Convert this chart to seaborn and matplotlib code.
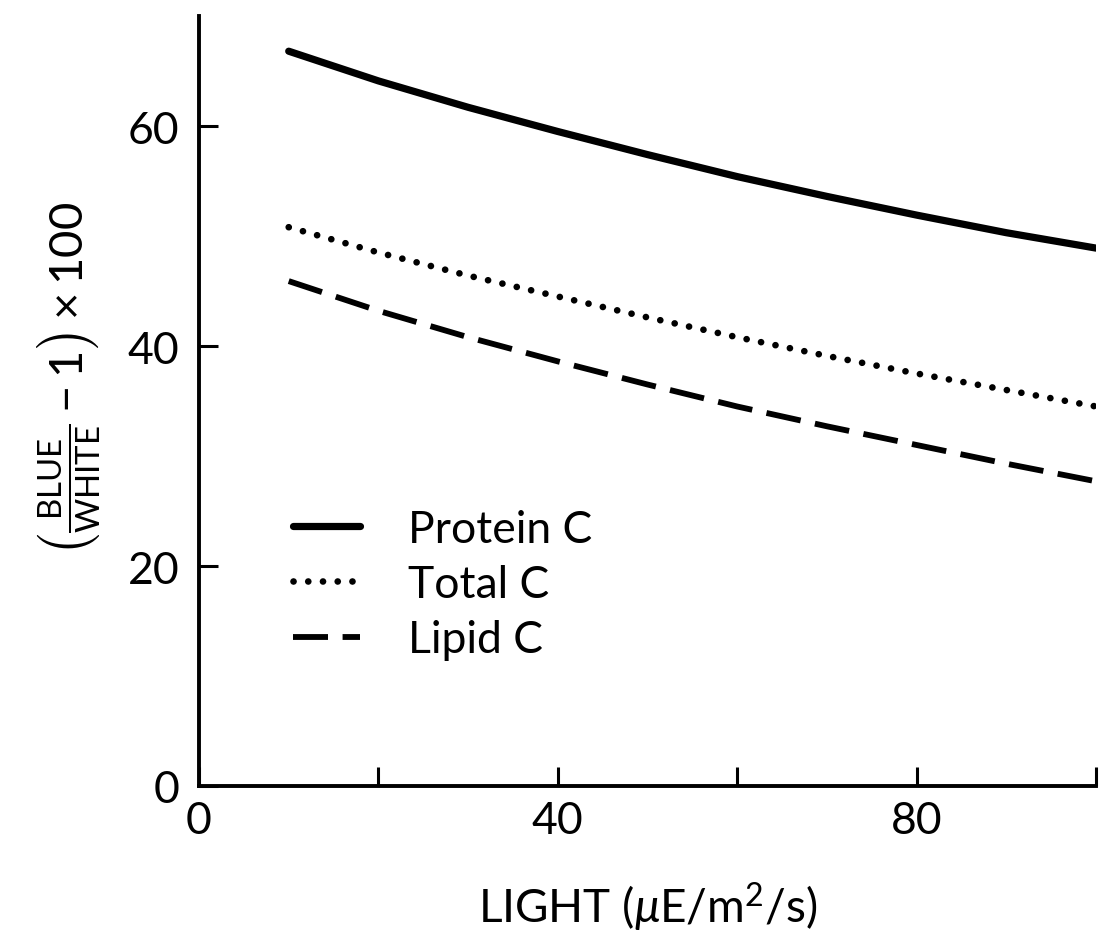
import numpy as np
import pandas as pd
import matplotlib
matplotlib.use("Agg")
import matplotlib.pyplot as plt
import seaborn as sns
from matplotlib.lines import Line2D

light = [10, 20, 30, 40, 50, 60, 70, 80, 90, 100]
protein_c = [66.8, 64.1, 61.7, 59.5, 57.4, 55.4, 53.6, 51.9, 50.3, 48.9]
total_c = [50.8, 48.5, 46.4, 44.5, 42.6, 40.8, 39.1, 37.5, 36.0, 34.5]
lipid_c = [45.9, 43.2, 40.8, 38.6, 36.5, 34.5, 32.7, 31.0, 29.3, 27.7]
series_names = ["Protein C", "Total C", "Lipid C"]
xticks = [0, 20, 40, 60, 80, 100]
xticklabels = ["0", "", "40", "", "80", ""]
yticks = [0, 20, 40, 60]
yticklabels = ["0", "20", "40", "60"]

sns.set_theme(style="white")
plt.rcParams["font.family"] = ["Lato", "DejaVu Sans"]
plt.rcParams["mathtext.fontset"] = "custom"
plt.rcParams["mathtext.rm"] = "Lato"
plt.rcParams["mathtext.it"] = "Lato:italic"
plt.rcParams["text.color"] = "black"

fig = plt.figure(figsize=(11.02, 9.45), dpi=100)
ax = fig.add_axes([0.1806, 0.1672, 0.8140, 0.8148])

styles = {
    "Protein C": dict(linestyle="-", linewidth=5.2, solid_capstyle="round"),
    "Total C": dict(linestyle=(0, (0.01, 2.2)), linewidth=4.8, dash_capstyle="round"),
    "Lipid C": dict(linestyle=(0, (6.0, 2.5)), linewidth=4.2, dash_capstyle="butt"),
}
values = {"Protein C": protein_c, "Total C": total_c, "Lipid C": lipid_c}

for name in series_names:
    df = pd.DataFrame({"light": light, "val": values[name]})
    sns.lineplot(data=df, x="light", y="val", ax=ax, color="black",
                 estimator=None, sort=True, **styles[name])

ax.set_xlim(0, 100)
ax.set_ylim(0, 70)
ax.set_xticks(xticks)
ax.set_xticklabels(xticklabels)
ax.set_yticks(yticks)
ax.set_yticklabels(yticklabels)
for s in ["top", "right"]:
    ax.spines[s].set_visible(False)
for s in ["left", "bottom"]:
    ax.spines[s].set_linewidth(2.8)
    ax.spines[s].set_color("black")
ax.tick_params(axis="both", which="major", bottom=True, left=True, top=False, right=False,
               direction="in", length=14, width=2.2, colors="black",
               labelsize=32, pad=10)
ax.tick_params(axis="y", pad=14)

ax.set_xlabel(r"LIGHT ($\mu$E/m$^2$/s)", fontsize=33, labelpad=28, color="black")
ax.set_ylabel(r"$\left(\frac{\mathrm{BLUE}}{\mathrm{WHITE}}-1\right)\times 100$",
              fontsize=34, color="black")
ax.yaxis.set_label_coords(-0.108, 0.53)

handles = [Line2D([0], [0], color="black", **styles[n]) for n in series_names]
leg = ax.legend(handles, series_names, loc="upper left", bbox_to_anchor=(0.06, 0.412),
                frameon=False, fontsize=32, handlelength=1.5, handletextpad=1.1,
                labelspacing=0.32)
for t in leg.get_texts():
    t.set_color("black")

fig.savefig("out.png", dpi=100, facecolor="white")
